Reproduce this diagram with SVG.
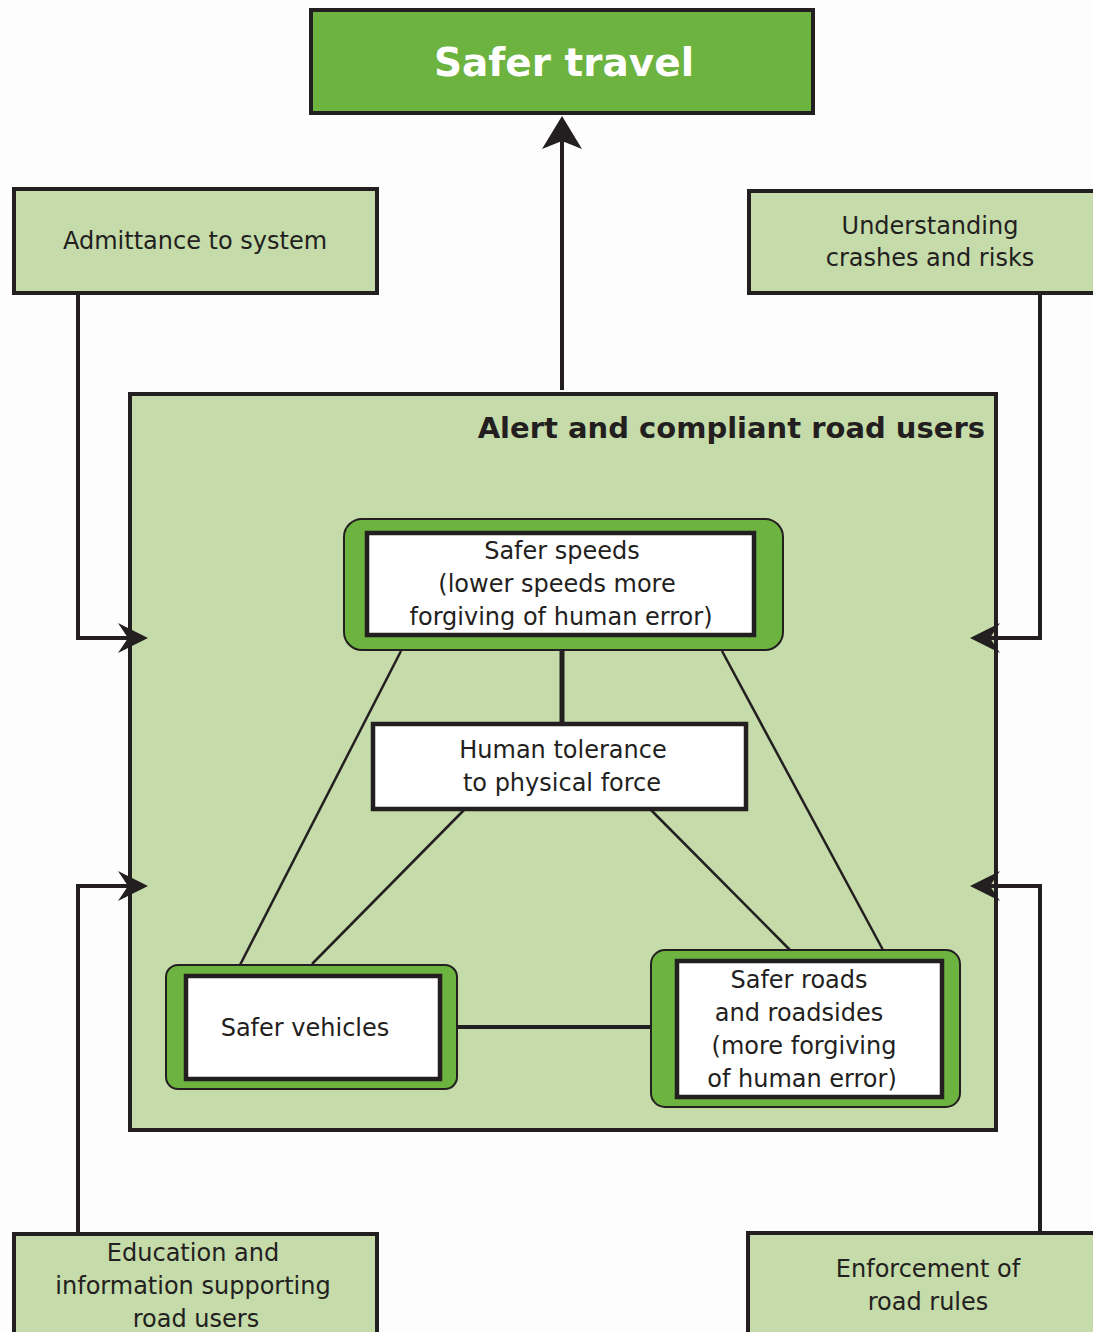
<svg xmlns="http://www.w3.org/2000/svg" width="1093" height="1332" viewBox="0 0 1093 1332">
<style>
.t{font-family:"DejaVu Sans",sans-serif;font-size:24px;fill:#231F20;text-anchor:middle}
.lg{fill:#C5DBA9;stroke:#231F20;stroke-width:4}
.wb{fill:#FFFFFF;stroke:#231F20;stroke-width:4.5}
.gb{fill:#6DB33F;stroke:#231F20;stroke-width:2}
.ln{fill:none;stroke:#231F20;stroke-width:4}
.th{fill:none;stroke:#231F20;stroke-width:2.5}
</style>
<defs>
<marker id="ah" markerUnits="userSpaceOnUse" viewBox="-12 -16 36 32" markerWidth="36" markerHeight="32" refX="0" refY="0" orient="auto">
<path d="M20,0 L-10,-15 L0,0 L-10,15 Z" fill="#231F20"/>
</marker>
<marker id="ahb" markerUnits="userSpaceOnUse" viewBox="-12 -22 40 44" markerWidth="40" markerHeight="44" refX="0" refY="0" orient="auto">
<path d="M25,0 L-8,-20 L0,0 L-8,20 Z" fill="#231F20"/>
</marker>
</defs>
<rect width="1093" height="1332" fill="#FCFDFC"/>

<g id="main-box">
<rect class="lg" x="130" y="394" width="866" height="736"/>
<text x="985" y="438" style="font-family:'DejaVu Sans',sans-serif;font-weight:bold;font-size:29px;fill:#231F20;text-anchor:end">Alert and compliant road users</text>
</g>

<g id="connectors">
<path class="ln" d="M562,390 V141" marker-end="url(#ahb)"/>
<path class="ln" d="M78,293 V638 H128" marker-end="url(#ah)"/>
<path class="ln" d="M78,1233 V886 H128" marker-end="url(#ah)"/>
<path class="ln" d="M1040,293 V638 H990" marker-end="url(#ah)"/>
<path class="ln" d="M1040,1233 V886 H990" marker-end="url(#ah)"/>
<path class="ln" style="stroke-width:5" d="M562,650 V723"/>
<path class="th" d="M401,651 L240,965"/>
<path class="th" d="M464,810 L312,964"/>
<path class="th" d="M722,651 L883,950"/>
<path class="th" d="M651,810 L790,950"/>
<path class="ln" d="M457,1027 H652"/>
</g>

<g id="safer-travel">
<rect x="311" y="10" width="502" height="103" fill="#6DB33F" stroke="#231F20" stroke-width="4"/>
<text x="564" y="76" style="font-family:'DejaVu Sans',sans-serif;font-weight:bold;font-size:39px;fill:#FFFFFF;text-anchor:middle">Safer travel</text>
</g>

<g id="admittance">
<rect class="lg" x="14" y="189" width="363" height="104"/>
<text class="t" x="195" y="249">Admittance to system</text>
</g>

<g id="understanding">
<rect class="lg" x="749" y="191" width="350" height="102"/>
<text class="t" x="930" y="234">Understanding</text>
<text class="t" x="930" y="266">crashes and risks</text>
</g>

<g id="education">
<rect class="lg" x="14" y="1234" width="363" height="110"/>
<text class="t" x="193" y="1261">Education and</text>
<text class="t" x="193" y="1294">information supporting</text>
<text class="t" x="196" y="1327">road users</text>
</g>

<g id="enforcement">
<rect class="lg" x="748" y="1233" width="350" height="110"/>
<text class="t" x="928" y="1277">Enforcement of</text>
<text class="t" x="928" y="1310">road rules</text>
</g>

<g id="safer-speeds">
<rect class="gb" x="344" y="519" width="439" height="131" rx="18"/>
<rect class="wb" x="367" y="533" width="387" height="102"/>
<text class="t" x="562" y="559">Safer speeds</text>
<text class="t" x="557" y="592">(lower speeds more</text>
<text class="t" x="561" y="625">forgiving of human error)</text>
</g>

<g id="human-tolerance">
<rect class="wb" x="373" y="724" width="373" height="85"/>
<text class="t" x="563" y="758">Human tolerance</text>
<text class="t" x="562" y="791">to physical force</text>
</g>

<g id="safer-vehicles">
<rect class="gb" x="166" y="965" width="291" height="124" rx="12"/>
<rect class="wb" x="186" y="976" width="254" height="103"/>
<text class="t" x="305" y="1036">Safer vehicles</text>
</g>

<g id="safer-roads">
<rect class="gb" x="651" y="950" width="309" height="157" rx="14"/>
<rect class="wb" x="677" y="961" width="265" height="136"/>
<text class="t" x="799" y="988">Safer roads</text>
<text class="t" x="799" y="1021">and roadsides</text>
<text class="t" x="804" y="1054">(more forgiving</text>
<text class="t" x="802" y="1087">of human error)</text>
</g>
</svg>
